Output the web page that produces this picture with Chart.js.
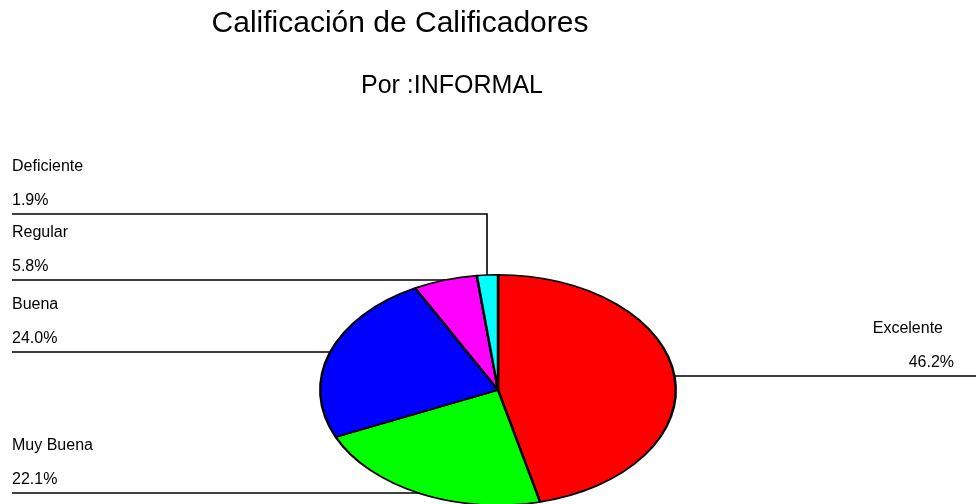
<!DOCTYPE html>
<html>
<head>
<meta charset="utf-8">
<script src="https://cdn.jsdelivr.net/npm/chart.js@4/dist/chart.umd.min.js"></script>
<style>
  body { margin: 0; background: #fff; }
  canvas { display: block; }
</style>
</head>
<body>
<canvas id="chart-area" width="976" height="504"></canvas>
<script>
var categories = ["Excelente", "Muy Buena", "Buena", "Regular", "Deficiente"];
var values = [46.2, 22.1, 24.0, 5.8, 1.9];
var colors = ["#FF0000", "#00FF00", "#0000FF", "#FF00FF", "#00FFFF"];
var titleText = "Calificación de Calificadores";
var subtitleText = "Por :INFORMAL";

var FONT = "'Liberation Sans', Arial, sans-serif";
var pieCenterY = 390;     // where the squashed pie sits
var squash = 116 / 179;   // vertical / horizontal radius

function ellipsePoint(arc, angle) {
    return {
        x: arc.x + arc.outerRadius * Math.cos(angle),
        y: pieCenterY + squash * arc.outerRadius * Math.sin(angle)
    };
}

var ellipsePlugin = {
    id: 'ellipse',
    beforeDatasetsDraw: function(chart) {
        var ctx = chart.ctx;
        var arc = chart.getDatasetMeta(0).data[0];
        ctx.save();
        ctx.translate(0, pieCenterY);
        ctx.scale(1, squash);
        ctx.translate(0, -arc.y);
    },
    afterDatasetsDraw: function(chart) {
        chart.ctx.restore();
    }
};

var labelPlugin = {
    id: 'leaders',
    afterDraw: function(chart) {
        var ctx = chart.ctx;
        var arcs = chart.getDatasetMeta(0).data;
        var total = values.reduce(function(a, b) { return a + b; }, 0);

        ctx.save();
        // titles
        ctx.fillStyle = "#000";
        ctx.textBaseline = "middle";
        ctx.textAlign = "center";
        ctx.font = "30px " + FONT;
        ctx.fillText(titleText, 400, 24);
        ctx.font = "25px " + FONT;
        ctx.fillText(subtitleText, 452, 86);

        var left = [], right = [];
        arcs.forEach(function(arc, i) {
            var mid = (arc.startAngle + arc.endAngle) / 2;
            var p = ellipsePoint(arc, mid);
            var item = { i: i, px: p.x, py: p.y, ly: p.y };
            if (Math.cos(mid) < 0 || Math.abs(Math.cos(mid)) < 0.2) left.push(item); else right.push(item);
        });

        // stack left labels from the bottom up, 66px apart
        left.sort(function(a, b) { return b.py - a.py; });
        for (var k = 1; k < left.length; k++) {
            if (left[k].ly > left[k - 1].ly - 66) left[k].ly = left[k - 1].ly - 66;
        }

        ctx.strokeStyle = "#000";
        ctx.lineWidth = 1.6;
        ctx.font = "16px " + FONT;

        left.forEach(function(it) {
            var ly = Math.round(it.ly);
            ctx.beginPath();
            ctx.moveTo(12, ly);
            if (Math.abs(it.ly - it.py) > 1) {
                var x = Math.round(it.px);
                ctx.lineTo(x, ly);
                ctx.lineTo(x, it.py);
            } else {
                ctx.lineTo(it.px, ly);
            }
            ctx.stroke();
            ctx.textAlign = "left";
            ctx.fillText(categories[it.i], 12, ly - 47);
            ctx.fillText((values[it.i] / total * 100).toFixed(1) + "%", 12, ly - 13);
        });

        right.forEach(function(it) {
            var ly = Math.round(it.ly);
            ctx.beginPath();
            ctx.moveTo(it.px, ly);
            ctx.lineTo(976, ly);
            ctx.stroke();
            ctx.textAlign = "right";
            ctx.fillText(categories[it.i], 943, ly - 47);
            ctx.fillText((values[it.i] / total * 100).toFixed(1) + "%", 954, ly - 13);
        });
        ctx.restore();
    }
};

var config = {
    type: 'pie',
    data: {
        labels: categories,
        datasets: [{
            data: values,
            backgroundColor: colors,
            borderColor: "#000",
            borderWidth: 2.5
        }]
    },
    options: {
        responsive: false,
        animation: false,
        layout: {
            padding: { left: 319, right: 299, top: 73, bottom: 73 }
        },
        plugins: {
            legend: { display: false },
            tooltip: { enabled: false },
            title: { display: false }
        }
    },
    plugins: [ellipsePlugin, labelPlugin]
};

var ctx = document.getElementById("chart-area").getContext("2d");
var myPie = new Chart(ctx, config);
</script>
</body>
</html>
